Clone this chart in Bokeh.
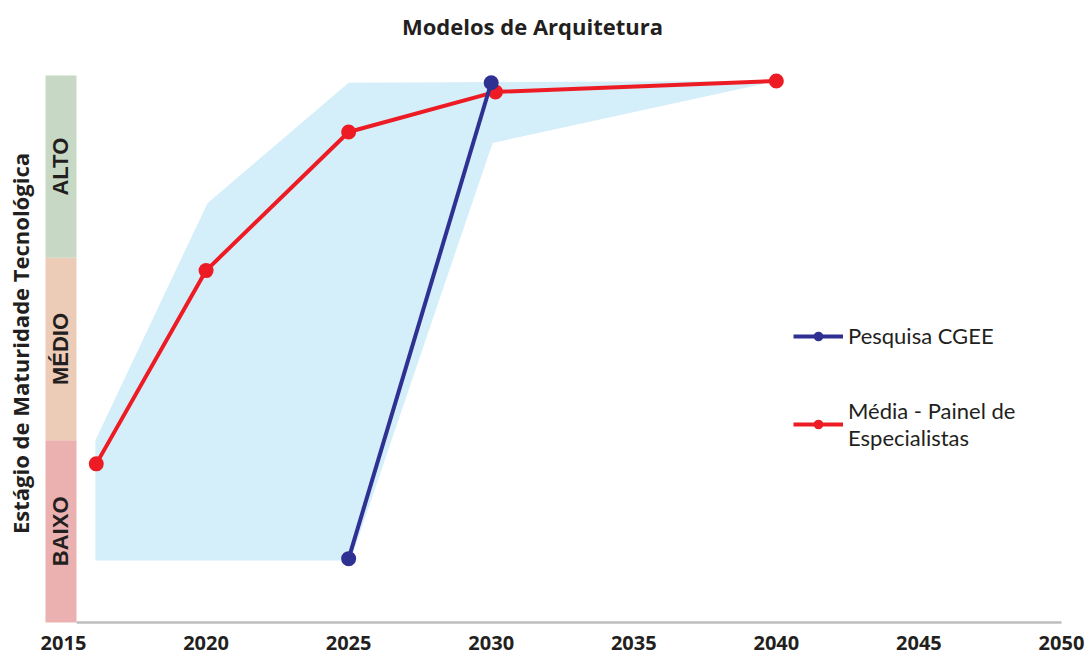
import math
from bokeh.plotting import figure
from bokeh.models import Range1d, Label, Legend, LegendItem, FixedTicker
from bokeh.core.properties import value
from bokeh.embed import file_html
from bokeh.resources import INLINE

# ---------------- data ----------------
title_text = "Modelos de Arquitetura"
y_title = "Estágio de Maturidade Tecnológica"

stage_labels = ["BAIXO", "MÉDIO", "ALTO"]
stage_bottom = [0, 1, 2]
stage_top = [1, 2, 3]
stage_colors = ["#ebb1b0", "#eccbb7", "#c7d9c4"]

x_ticks = [2015, 2020, 2025, 2030, 2035, 2040, 2045, 2050]

cgee_years = [2025.0, 2030.0]
cgee_level = [0.35, 2.96]

painel_years = [2016.15, 2020.0, 2025.0, 2030.15, 2040.0]
painel_level = [0.87, 1.93, 2.69, 2.91, 2.97]

range_upper_years = [2016.12, 2020.05, 2025.0, 2040.0]
range_upper_level = [1.00, 2.30, 2.96, 2.97]
range_lower_years = [2040.0, 2030.05, 2025.07, 2016.12]
range_lower_level = [2.97, 2.63, 0.34, 0.34]

series_names = ["Pesquisa CGEE", "Média - Painel de\nEspecialistas"]

# ---------------- figure ----------------
TXT = "#231f20"
p = figure(width=1086, height=657,
           x_range=Range1d(2012.791, 2050.877),
           y_range=Range1d(-0.011, 3.4113),
           output_backend="svg", toolbar_location=None,
           y_axis_type=None,
           min_border_left=0, min_border_right=0,
           min_border_top=0, min_border_bottom=33)
p.outline_line_color = None
p.xgrid.visible = False
p.ygrid.visible = False
p.background_fill_color = "white"
p.border_fill_color = "white"

ax = p.xaxis[0]
ax.ticker = FixedTicker(ticks=x_ticks)
ax.axis_line_color = None
ax.major_tick_line_color = None
ax.minor_tick_line_color = None
ax.major_tick_out = 0
ax.major_tick_in = 0
ax.major_label_standoff = 11
ax.major_label_text_font = "Open Sans"
ax.major_label_text_font_style = "bold"
ax.major_label_text_font_size = "20px"
ax.major_label_text_color = TXT

# maturity strip
strip_left, strip_right = 2014.369, 2015.456
p.quad(left=strip_left, right=strip_right, bottom=stage_bottom, top=stage_top,
       fill_color=stage_colors, line_color=None)
stage_mid = [(b + t) / 2 for b, t in zip(stage_bottom, stage_top)]
p.text(x=[(strip_left + strip_right) / 2] * 3, y=stage_mid, text=stage_labels,
       angle=math.pi / 2, text_align="center", text_baseline="middle",
       text_font=value("Liberation Sans"), text_font_style="bold",
       text_font_size="22px", text_color=TXT)

# axis baseline
p.segment(x0=[strip_right], y0=[0], x1=[x_ticks[-1]], y1=[0],
          line_color="#bcbec0", line_width=2.5)

# range band
p.patch(range_upper_years + range_lower_years,
        range_upper_level + range_lower_level,
        fill_color="#d4eefa", line_color=None)

# series
rl = p.line(painel_years, painel_level, line_color="#ed1c24", line_width=4)
rs = p.scatter(painel_years, painel_level, size=15, fill_color="#ed1c24", line_color=None)
bl = p.line(cgee_years, cgee_level, line_color="#2e3192", line_width=4)
bs = p.scatter(cgee_years, cgee_level, size=15, fill_color="#2e3192", line_color=None)

# title and y title
p.add_layout(Label(x=2031.448, y=3.274, text=title_text, text_align="center",
                   text_baseline="middle", text_font="Open Sans", text_font_style="bold",
                   text_font_size="22px", text_color=TXT))
p.add_layout(Label(x=2013.492, y=1.53, text=y_title, angle=math.pi / 2,
                   text_align="center", text_baseline="middle", text_font="Open Sans",
                   text_font_style="bold", text_font_size="22px", text_color=TXT))

legend = Legend(items=[LegendItem(label=series_names[0], renderers=[bl, bs]),
                       LegendItem(label=series_names[1], renderers=[rl, rs])],
                location=(793, 173), orientation="vertical",
                border_line_color=None, background_fill_alpha=0,
                padding=0, margin=0, spacing=48,
                glyph_width=50, glyph_height=24, label_height=24,
                label_standoff=5, label_text_font="Lato",
                label_text_font_size="22px", label_text_line_height=1.7,
                label_text_color=TXT)
p.add_layout(legend)

open("out.html", "w").write(file_html(p, INLINE))
